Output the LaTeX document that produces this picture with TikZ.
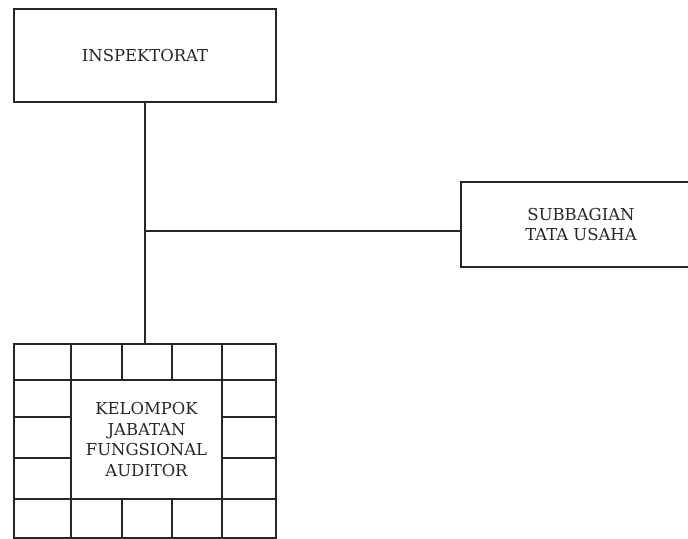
\documentclass[tikz,border=0pt]{standalone}
\usepackage{fontspec}
\setmainfont{DejaVu Serif}
\begin{document}
\begin{tikzpicture}[x=1bp,y=-1bp,
  ln/.style={draw=black!85,line width=1.8bp},
  box/.style={ln,fill=white,inner sep=0pt,outer sep=0pt,align=center,font=\fontsize{16.5}{21}\selectfont,text=black!85},
]
\useasboundingbox (0,0) rectangle (688,539);
\node[box,minimum width=262bp,minimum height=93bp] (insp) at (145,55.5) {INSPEKTORAT};
\node[box,minimum width=240bp,minimum height=85bp] (sub) at (581,224.5) {SUBBAGIAN\\TATA USAHA};
\node[box,minimum width=262bp,minimum height=194bp] (grid) at (145,441) {};
\node[box,minimum width=151bp,minimum height=119bp] (kel) at (146.5,439.5) {KELOMPOK\\JABATAN\\FUNGSIONAL\\AUDITOR};
\coordinate (j) at (145,231);
% cell lines
\draw[ln] (grid.north west |- kel.north) -- (grid.north east |- kel.north);
\draw[ln] (grid.south west |- kel.south) -- (grid.south east |- kel.south);
\draw[ln] (kel.north west |- grid.north) -- (kel.south west |- grid.south);
\draw[ln] (kel.north east |- grid.north) -- (kel.south east |- grid.south);
\foreach \x in {122,172} {
  \draw[ln] (\x,344) -- (\x,380);
  \draw[ln] (\x,499) -- (\x,538);
}
\foreach \y in {417,458} {
  \draw[ln] (14,\y) -- (71,\y);
  \draw[ln] (222,\y) -- (276,\y);
}
% connectors
\draw[ln] (insp.south) -- (insp.south |- grid.north);
\draw[ln] (j) -- (j -| sub.west);
\end{tikzpicture}
\end{document}
